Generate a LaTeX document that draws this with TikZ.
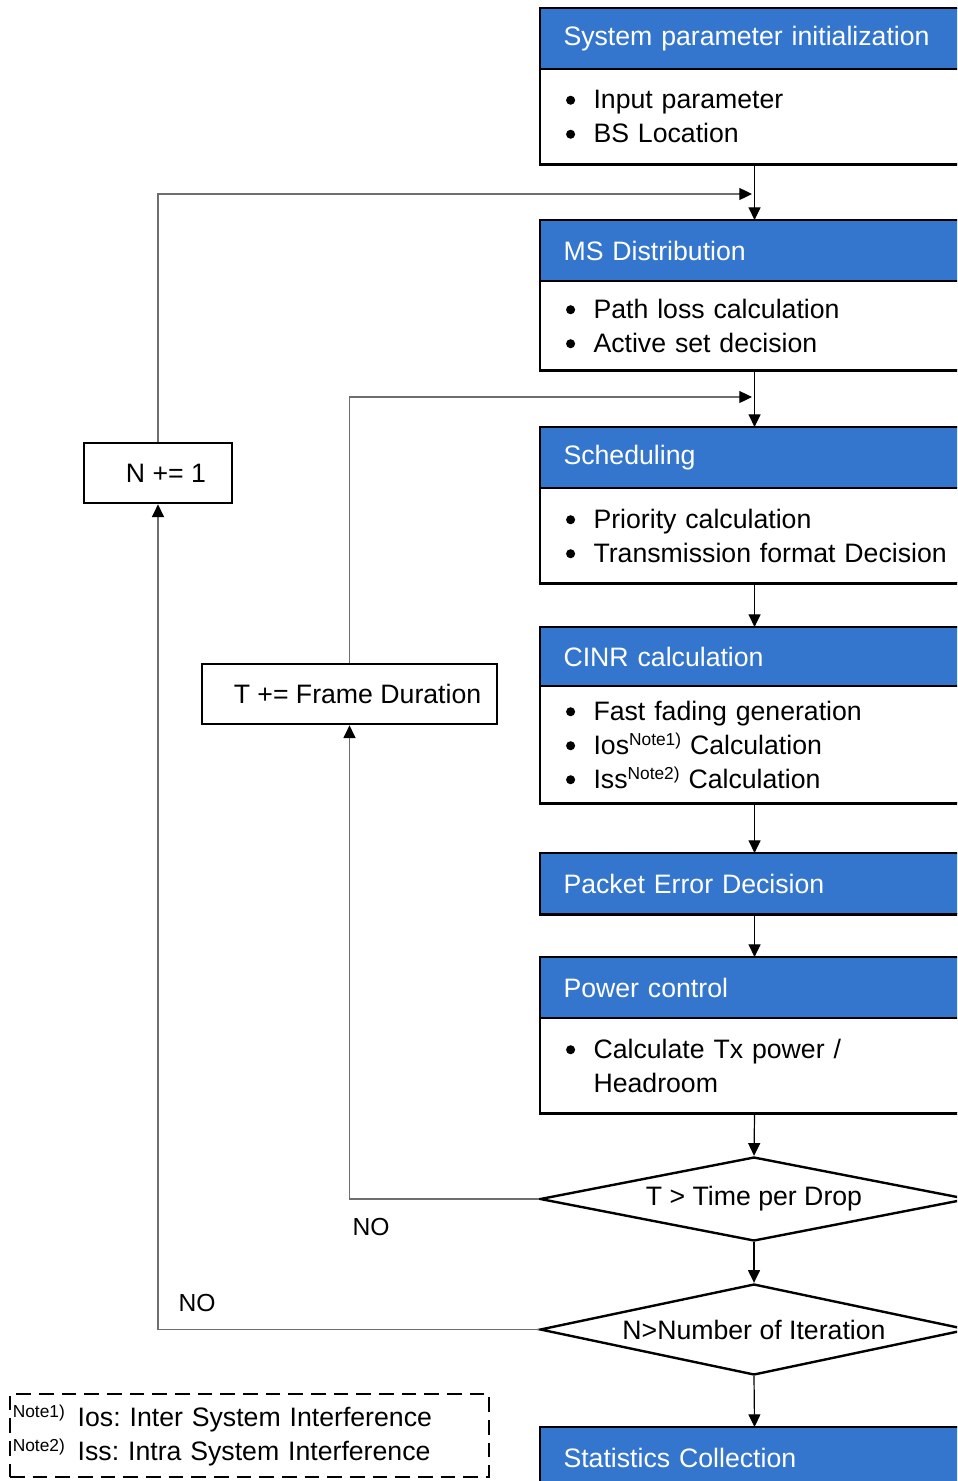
\documentclass[tikz,border=0pt]{standalone}
\usepackage{fontspec}
\setmainfont{Liberation Sans}
\usetikzlibrary{arrows.meta,shapes.geometric}
\definecolor{hdrblue}{RGB}{52,118,206}
\definecolor{loopgray}{RGB}{110,110,110}
\tikzset{
	hdr/.style={draw=black,line width=0.8pt,fill=hdrblue,text=white,anchor=north west,
		minimum width=321pt,minimum height=45pt,text width=286.5pt,align=left,
		inner xsep=17.25pt,inner ysep=0pt},
	body/.style={draw=black,line width=0.8pt,fill=white,anchor=north west,
		minimum width=321pt,minimum height=#1,text width=286.5pt,align=left,
		inner xsep=17.25pt,inner ysep=0pt},
	frame/.style={line width=2.2pt},
	decision/.style={diamond,draw=black,line width=1.8pt,fill=white,aspect=5,inner sep=0pt,
		minimum width=321pt,minimum height=#1},
	counter/.style={rectangle,draw=black,line width=2pt,minimum height=45pt,inner sep=0pt},
	arr/.style={line width=0.9pt,-{Triangle[length=9.5pt,width=9pt]}},
	loopln/.style={line width=0.9pt,draw=loopgray,-{Triangle[length=9.5pt,width=9pt,color=black]}},
	notebox/.style={draw=black,line width=1.3pt,dash pattern=on 11pt off 6pt,
		minimum width=359.25pt,minimum height=62.25pt,text width=355pt,align=left,
		inner xsep=2pt,inner ysep=0pt},
	nolabel/.style={font=\fontsize{18.5}{20}\selectfont}
}
\newcommand{\bul}{\makebox[22.5pt][l]{\hspace{1.9pt}\tikz[baseline=-6.3pt]\fill (0,0) circle (3.4pt);}}
\newcommand{\notemark}[1]{\raisebox{0.62ex}{\fontsize{13}{13}\selectfont Note#1)}}
\frenchspacing

\begin{document}
\begin{tikzpicture}[x=0.75pt,y=-0.75pt,every node/.style={font=\fontsize{20}{25.5}\selectfont}]
	
	\useasboundingbox (0,0) rectangle (957,1481);
	\clip (0,0) rectangle (957,1481);
	
	% -------------------------------------------------
	% 1. Main chain of blocks
	% -------------------------------------------------
	\node[hdr] (initH) at (540,8) {System parameter initialization};
	\node[body=70.5pt] (initB) at (initH.south west) {\bul Input parameter\\\bul BS Location};
	\draw[frame] (initH.north west) rectangle (initB.south east);
	
	\node[hdr] (msH) at (540,220) {MS Distribution};
	\node[body=66pt] (msB) at (msH.south west) {\bul Path loss calculation\\\bul Active set decision};
	\draw[frame] (msH.north west) rectangle (msB.south east);
	
	\node[hdr] (schH) at (540,427) {Scheduling};
	\node[body=70.5pt] (schB) at (schH.south west)
	{\bul Priority calculation\\\bul \mbox{Transmission format Decision}};
	\draw[frame] (schH.north west) rectangle (schB.south east);
	
	\node[hdr,minimum height=43.5pt] (cinrH) at (540,627) {CINR calculation};
	\node[body=87pt] (cinrB) at (cinrH.south west)
	{\bul Fast fading generation\\\bul Ios\notemark{1} Calculation\\\bul Iss\notemark{2} Calculation};
	\draw[frame] (cinrH.north west) rectangle (cinrB.south east);
	
	\node[hdr] (perH) at (540,853) {Packet Error Decision};
	\draw[frame] (perH.north west) rectangle (perH.south east);
	
	\node[hdr] (pcH) at (540,957) {Power control};
	\node[body=70.5pt] (pcB) at (pcH.south west)
	{\fontsize{20}{24}\selectfont\bul Calculate Tx power /\\\hspace*{22.5pt}Headroom};
	\draw[frame] (pcH.north west) rectangle (pcB.south east);
	
	% decisions
	\node[decision=63pt] (timeDec) at (754,1199) {T > Time per Drop};
	\node[decision=68.25pt] (iterDec) at (754,1329.5) {N>Number of Iteration};
	
	\node[hdr] (statH) at (540,1427) {Statistics Collection};
	\draw[frame] (statH.north west) rectangle (statH.south east);
	
	% -------------------------------------------------
	% 2. Forward arrows
	% -------------------------------------------------
	\draw[arr] (initB.south) -- (msH.north);
	\draw[arr] (msB.south) -- (schH.north);
	\draw[arr] (schB.south) -- (cinrH.north);
	\draw[arr] (cinrB.south) -- (perH.north);
	\draw[arr] (perH.south) -- (pcH.north);
	\draw[arr] (pcB.south) -- (timeDec.north);
	\draw[arr] (timeDec.south) -- (iterDec.north);
	\draw[arr] (iterDec.south) -- (statH.north);
	
	% -------------------------------------------------
	% 3. Counters and feedback loops
	% -------------------------------------------------
	\node[counter,minimum width=111pt] (nInc) at (158,473) {\hspace*{12pt}N += 1};
	\node[counter,minimum width=221.25pt] (tInc) at (349.5,694) {\hspace*{12pt}T += Frame Duration};
	
	\coordinate (jnDrop) at (752,194);
	\coordinate (jnFrame) at (752,397);
	
	\draw[loopln] (nInc.north) |- (jnDrop);
	\draw[loopln] (tInc.north) |- (jnFrame);
	
	\draw[loopln] (timeDec.west) -| (tInc.south);
	\node[nolabel] (noTime) at (371,1227) {NO};
	
	\draw[loopln] (iterDec.west) -| (nInc.south);
	\node[nolabel] (noIter) at (197,1303) {NO};
	
	% -------------------------------------------------
	% 4. Notes
	% -------------------------------------------------
	\node[notebox] (notes) at (249.5,1435.5)
	{\fontsize{20}{23.25}\selectfont\notemark{1}\hspace{3pt} Ios: Inter System Interference\\\notemark{2}\hspace{3pt} Iss: Intra System Interference};
	
\end{tikzpicture}
\end{document}
